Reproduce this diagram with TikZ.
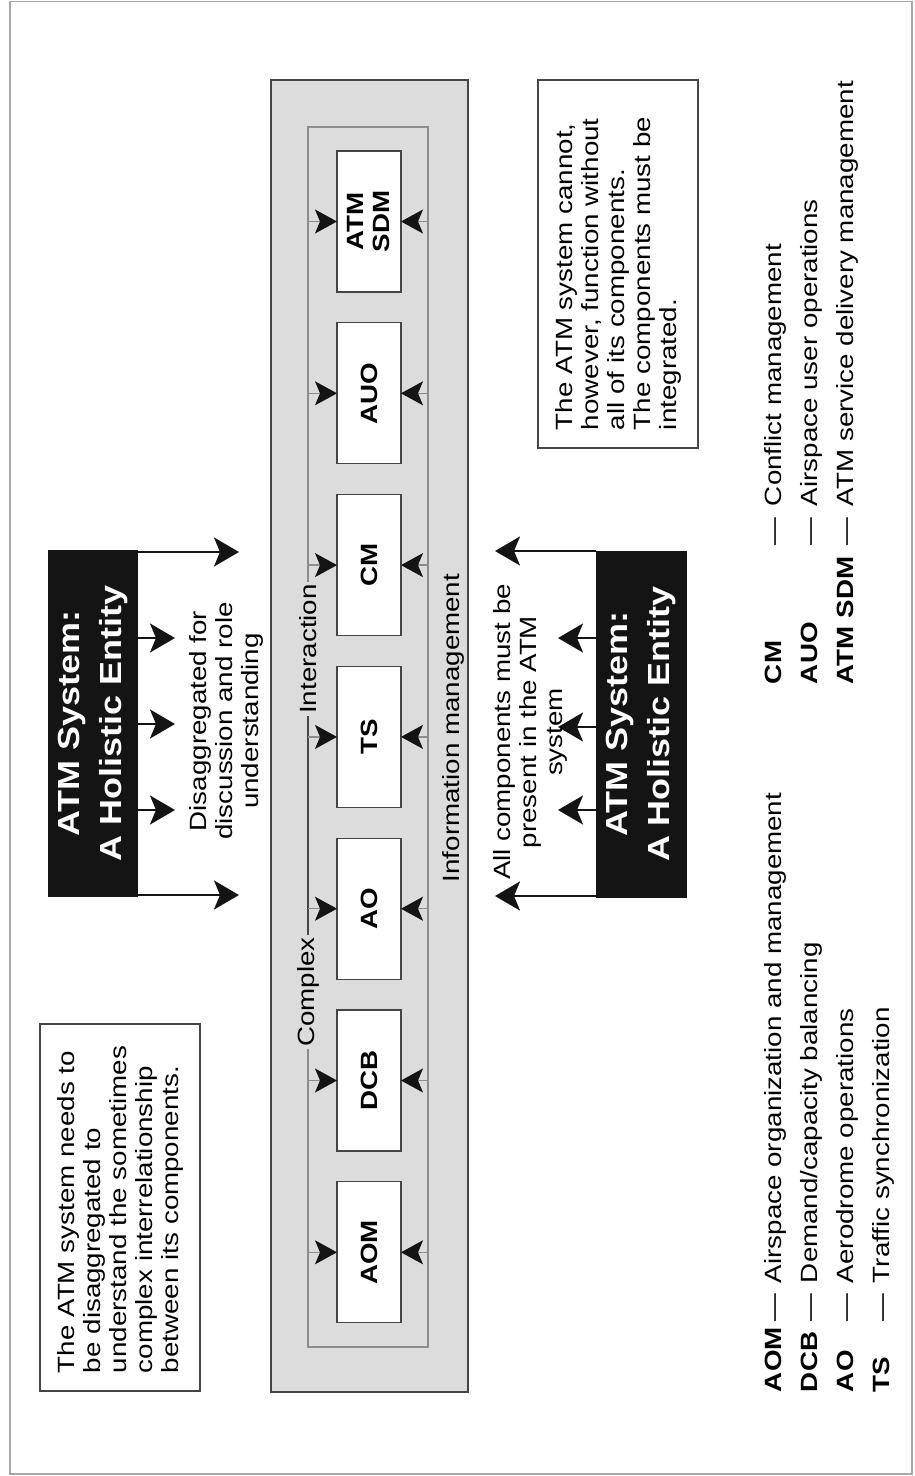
\documentclass[tikz,border=0pt]{standalone}
\usepackage{fontspec}
\setmainfont{Liberation Sans}[FakeStretch=1.18]
\usetikzlibrary{arrows.meta}
\definecolor{panelfill}{HTML}{DCDCDC}
\definecolor{edgegray}{HTML}{454545}
\definecolor{loopgray}{HTML}{8C8C8C}
\definecolor{ink}{HTML}{141414}
\definecolor{framegray}{HTML}{A8A8A8}
\begin{document}
\begin{tikzpicture}[x=1pt, y=-1pt,
  every node/.style={inner sep=0pt, outer sep=0pt},
  bodytext/.style={rotate=90, font=\fontsize{23.5}{26}\selectfont},
  legtext/.style={bodytext, anchor=base west},
  legkey/.style={legtext, font=\bfseries\fontsize{23.5}{26}\selectfont},
  legdash/.style={bodytext, anchor=base},
  titlebox/.style={rotate=90, fill=ink, text=white, align=center,
    font=\bfseries\fontsize{30.5}{42}\selectfont,
    minimum width=347pt, minimum height=90pt},
  compbox/.style={rotate=90, draw=edgegray, fill=white, line width=1.3pt,
    minimum width=141pt, minimum height=64pt, align=center,
    font=\bfseries\fontsize{23.5}{26}\selectfont},
  notebox/.style={bodytext, draw=edgegray, line width=1.2pt, align=left,
    minimum height=160pt, inner xsep=18pt},
  looplabel/.style={bodytext, outer sep=2pt},
  loopline/.style={draw=loopgray, line width=1.3pt},
  coreline/.style={draw=edgegray, line width=1.3pt},
  stubline/.style={draw=loopgray, line width=1.3pt,
    -{Stealth[length=22pt, width=24pt, inset=5pt, color=ink]}},
  bigarrow/.style={draw=ink, line width=2.3pt,
    -{Stealth[length=25pt, width=29pt, inset=6pt]}}]

\useasboundingbox (0,0) rectangle (914,1476);
\draw[framegray, line width=1.2pt] (10,1.5) rectangle (912,1474);

% central panel holding the seven components
\node[draw=edgegray, fill=panelfill, line width=1.4pt,
      minimum width=197pt, minimum height=1312pt] (panel) at (369.5,736) {};

% corners of the interaction loop
\coordinate (lt) at (308,127);
\coordinate (rt) at (428,127);
\coordinate (rb) at (428,1347);
\coordinate (lb) at (308,1347);

\node[looplabel] (interaction) at (308,649) {Interaction};
\node[looplabel] (complex) at (308,992) {Complex};
\node[bodytext] (info) at (453.5,728) {Information management};

\draw[loopline] (interaction.east) -- (lt) -- (rt) -- (rb) -- (lb) -- (complex.west);
\draw[coreline] (complex.east) -- (interaction.west);

% components
\node[compbox] (sdm) at (369,221.5) {ATM\\SDM};
\node[compbox] (auo) at (369,393.3) {AUO};
\node[compbox] (cm)  at (369,565.1) {CM};
\node[compbox] (ts)  at (369,736.9) {TS};
\node[compbox] (ao)  at (369,908.7) {AO};
\node[compbox] (dcb) at (369,1080.5) {DCB};
\node[compbox] (aom) at (369,1252.3) {AOM};

\foreach \c in {sdm,auo,cm,ts,ao,dcb,aom}{
  \draw[stubline] (\c.north -| lt) -- (\c.north);
  \draw[stubline] (\c.south -| rt) -- (\c.south);
}

% holistic entity, disaggregated
\node[titlebox] (whole1) at (93,723.5) {ATM System:\\A Holistic Entity};
\coordinate (s1) at (239,552);
\coordinate (s2) at (175,638);
\coordinate (s3) at (175,724);
\coordinate (s4) at (175,810);
\coordinate (s5) at (239,895);
\foreach \t in {s1,s2,s3,s4,s5}{
  \draw[bigarrow] (whole1.south |- \t) -- (\t);
}
\node[bodytext, align=center] (dis) at (226,721)
  {Disaggregated for\\discussion and role\\understanding};

% holistic entity, integrated
\node[titlebox, minimum height=91pt] (whole2) at (641.5,724) {ATM System:\\A Holistic Entity};
\coordinate (r1) at (495,551);
\coordinate (r2) at (558,638);
\coordinate (r3) at (558,727);
\coordinate (r4) at (558,810);
\coordinate (r5) at (495,896);
\foreach \t in {r1,r2,r3,r4,r5}{
  \draw[bigarrow] (whole2.north |- \t) -- (\t);
}
\node[bodytext, align=center] (allc) at (530.5,732)
  {All components must be\\present in the ATM\\system};

% explanatory notes
\node[notebox, text width=331pt] (lnote) at (120,1207.5)
  {The ATM system needs to\\be disaggregated to\\understand the sometimes\\complex interrelationship\\between its components.};
\node[notebox, text width=332pt] (rnote) at (618,264)
  {The ATM system cannot,\\however, function without\\all of its components.\\The components must be\\integrated.};

% legend, first column
\node[legkey]  (kaom) at (781,1392) {AOM};
\node[legdash] (daom) at (781,1308) {—};
\node[legtext] (taom) at (781,1283) {Airspace organization and management};
\node[legkey]  (kdcb) at (817,1392) {DCB};
\node[legdash] (ddcb) at (817,1308) {—};
\node[legtext] (tdcb) at (817,1283) {Demand/capacity balancing};
\node[legkey]  (kao)  at (853,1392) {AO};
\node[legdash] (dao)  at (853,1308) {—};
\node[legtext] (tao)  at (853,1283) {Aerodrome operations};
\node[legkey]  (kts)  at (889,1392) {TS};
\node[legdash] (dts)  at (889,1308) {—};
\node[legtext] (tts)  at (889,1283) {Traffic synchronization};

% legend, second column
\node[legkey]  (kcm)  at (781,684) {CM};
\node[legdash] (dcm)  at (781,532) {—};
\node[legtext] (tcm)  at (781,506) {Conflict management};
\node[legkey]  (kauo) at (817,684) {AUO};
\node[legdash] (dauo) at (817,532) {—};
\node[legtext] (tauo) at (817,506) {Airspace user operations};
\node[legkey]  (ksdm) at (853,684) {ATM SDM};
\node[legdash] (dsdm) at (853,532) {—};
\node[legtext] (tsdm) at (853,506) {ATM service delivery management};
\end{tikzpicture}
\end{document}
